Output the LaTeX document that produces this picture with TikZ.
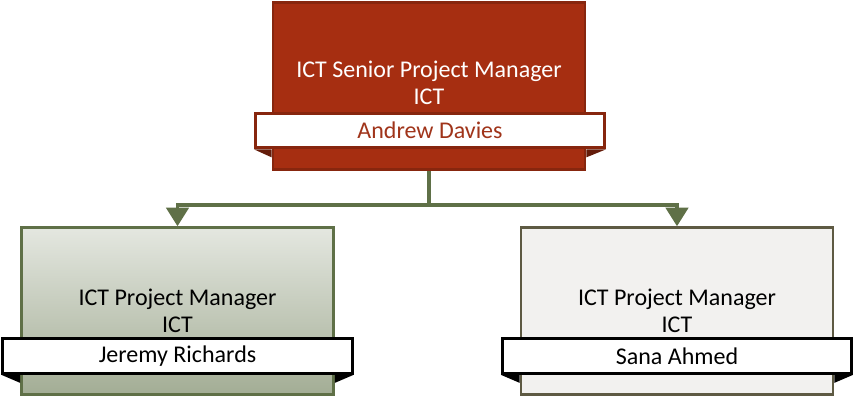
\documentclass[tikz,border=0pt]{standalone}
\usepackage{fontspec}
\setmainfont{Carlito}
\usetikzlibrary{arrows.meta}
\definecolor{seniorfill}{RGB}{166,46,17}
\definecolor{seniordraw}{RGB}{135,38,14}
\definecolor{seniordark}{RGB}{100,28,10}
\definecolor{namered}{RGB}{160,52,26}
\definecolor{linkgreen}{RGB}{95,112,71}
\definecolor{greentop}{RGB}{228,231,224}
\definecolor{greenbot}{RGB}{163,173,149}
\definecolor{greydraw}{RGB}{94,90,67}
\definecolor{greyfill}{RGB}{242,241,239}

\begin{document}
\begin{tikzpicture}[x=0.75pt,y=-0.75pt,
  every node/.style={rectangle,inner sep=0pt,align=center,
    font=\fontsize{18}{20.5}\selectfont},
  post/.style={minimum width=234pt,minimum height=125pt,line width=2.2pt},
  namebar/.style={draw=black,fill=white,line width=2.2pt,
    minimum width=262pt,minimum height=26pt},
  link/.style={draw=linkgreen,line width=2.3pt,
    -{Triangle[width=17pt,length=14pt]}}]
\useasboundingbox (0,0) rectangle (853,397);

% boxes
\node[post,draw=seniordraw,fill=seniorfill] (senior) at (429,86) {};
\node[text=white] (seniortitle) at (429,83) {ICT Senior Project Manager\\ICT};
\node[post,draw=linkgreen,top color=greentop,bottom color=greenbot] (pm1) at (177.5,311)
  {ICT Project Manager\\ICT};
\node[post,draw=greydraw,fill=greyfill] (pm2) at (677,311)
  {ICT Project Manager\\ICT};

% name bars
\node[namebar,draw=seniordraw,text=namered] (seniorname) at (430,130.5) {Andrew Davies};
\node[namebar] (pm1name) at (177.5,356) {Jeremy Richards};
\node[namebar] (pm2name) at (677,356) {Sana Ahmed};

% ribbon ends
\fill[seniordark] (seniorname.south west) -- (senior.west |- seniorname.south) -- ++(0,8) -- cycle;
\fill[seniordark] (seniorname.south east) -- (senior.east |- seniorname.south) -- ++(0,8) -- cycle;
\foreach \n in {pm1,pm2}{
  \fill[black] (\n name.south west) -- (\n.west |- \n name.south) -- ++(0,8) -- cycle;
  \fill[black] (\n name.south east) -- (\n.east |- \n name.south) -- ++(0,8) -- cycle;
}

% connectors
\coordinate (fork) at (429,205);
\draw[link] (senior.south) -- (fork) -| (pm1.north);
\draw[link] (fork) -| (pm2.north);
\end{tikzpicture}
\end{document}
